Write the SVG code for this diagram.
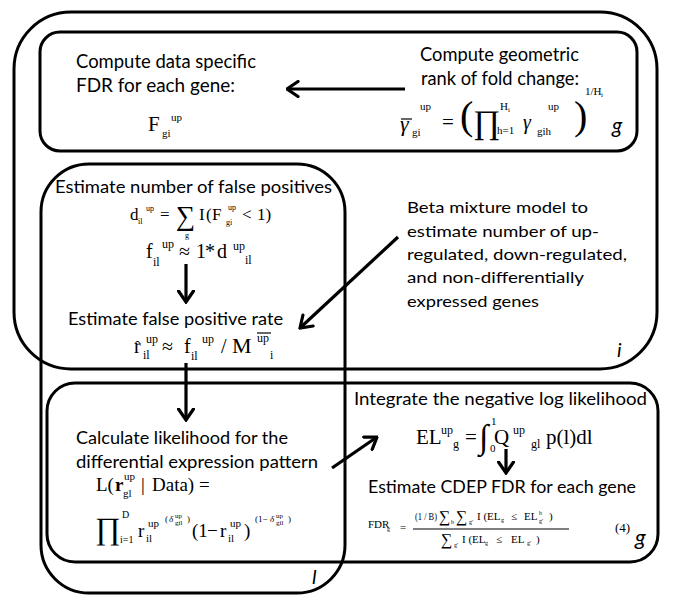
<svg xmlns="http://www.w3.org/2000/svg" width="685" height="607" viewBox="0 0 685 607">
<defs>
<marker id="chev" viewBox="0 0 14 18" refX="12.5" refY="9" markerWidth="14" markerHeight="18" markerUnits="userSpaceOnUse" orient="auto">
<path d="M1.5,1.5 L12.5,9 L1.5,16.5" fill="none" stroke="#000" stroke-width="3.2" stroke-linecap="round" stroke-linejoin="miter"/>
</marker>
</defs>
<style>
.plate{fill:none;stroke:#000;stroke-width:3}
.t{font-family:Lato,"Open Sans","Liberation Sans",sans-serif;fill:#000}
.m{font-family:"Liberation Serif","Times New Roman",serif;fill:#000}
.it{font-style:italic}
.lab{font-family:Lato,"Open Sans","Liberation Sans",sans-serif;font-style:italic;fill:#000}
.conn{fill:none;stroke:#000;stroke-width:3.2;marker-end:url(#chev)}
.rule{stroke:#000;stroke-width:1.2}
</style>
<rect width="685" height="607" fill="#fff"/>

<g id="plate-i">
<rect class="plate" x="14" y="12" width="643" height="357" rx="57"/>
<text class="lab" x="617" y="357" font-size="20">i</text>
</g>
<g id="plate-g-top">
<rect class="plate" x="40" y="32" width="597" height="119" rx="20"/>
<text class="lab" x="612" y="133" font-size="21">g</text>
</g>
<g id="plate-l">
<rect class="plate" x="41" y="164" width="304" height="429" rx="48"/>
<text class="lab" x="312" y="584" font-size="20">l</text>
</g>
<g id="plate-g-bottom">
<rect class="plate" x="47" y="383" width="611" height="179" rx="28"/>
<text class="lab" x="635" y="545" font-size="22">g</text>
</g>

<g id="node-data-fdr">
<text class="t" x="76" y="68" font-size="18.5" textLength="180" lengthAdjust="spacingAndGlyphs">Compute data specific</text>
<text class="t" x="76" y="92" font-size="18.5" textLength="159" lengthAdjust="spacingAndGlyphs">FDR for each gene:</text>
<text class="m" x="148" y="131" font-size="21">F</text>
<text class="m" x="162" y="137" font-size="11">gi</text>
<text class="m" x="171" y="121" font-size="11">up</text>
</g>

<g id="node-geo-rank">
<text class="t" x="420" y="61" font-size="18.5" textLength="159" lengthAdjust="spacingAndGlyphs">Compute geometric</text>
<text class="t" x="421" y="85" font-size="18.5" textLength="158" lengthAdjust="spacingAndGlyphs">rank of fold change:</text>
<text class="m it" x="400" y="131" font-size="22">γ</text>
<line class="rule" x1="401" y1="119" x2="412" y2="119" stroke-width="1.6"/>
<text class="m" x="412" y="136" font-size="11">gi</text>
<text class="m" x="420" y="110" font-size="11">up</text>
<text class="m" x="442" y="129" font-size="21">=</text>
<text class="m" x="460" y="129" font-size="40">(</text>
<text class="m" x="473" y="133" font-size="33">∏</text>
<text class="m" x="500" y="110" font-size="11">H</text>
<text class="m" x="508" y="112" font-size="7">i</text>
<text class="m" x="497" y="134" font-size="11">h=1</text>
<text class="m it" x="523" y="129" font-size="20">γ</text>
<text class="m" x="537" y="135" font-size="11">gih</text>
<text class="m" x="548" y="110" font-size="11">up</text>
<text class="m" x="574" y="129" font-size="40">)</text>
<text class="m" x="585" y="95" font-size="11">1/H</text>
<text class="m" x="601" y="97" font-size="7">i</text>
</g>

<g id="node-false-pos">
<text class="t" x="55" y="193" font-size="16.5" textLength="277" lengthAdjust="spacingAndGlyphs">Estimate number of false positives</text>
<text class="m" x="130" y="220" font-size="17">d</text>
<text class="m" x="138" y="224" font-size="8">il</text>
<text class="m" x="146" y="211" font-size="8">up</text>
<text class="m" x="160" y="220" font-size="17">=</text>
<text class="m" x="176" y="225" font-size="27">∑</text>
<text class="m" x="185" y="238" font-size="8">g</text>
<text class="m" x="199" y="220" font-size="17">I</text>
<text class="m" x="206" y="220" font-size="17">(</text>
<text class="m" x="212" y="220" font-size="17">F</text>
<text class="m" x="226" y="225" font-size="8">gi</text>
<text class="m" x="228" y="210" font-size="8">up</text>
<text class="m" x="242" y="220" font-size="17">&lt;</text>
<text class="m" x="257" y="220" font-size="17">1)</text>
<text class="m" x="146" y="258" font-size="20">f</text>
<text class="m" x="153" y="266" font-size="12">il</text>
<text class="m" x="162" y="248" font-size="12">up</text>
<text class="m" x="179" y="258" font-size="20">≈</text>
<text class="m" x="196" y="258" font-size="20">1</text>
<text class="m" x="205" y="258" font-size="20">*</text>
<text class="m" x="217" y="258" font-size="20">d</text>
<text class="m" x="233" y="250" font-size="12">up</text>
<text class="m" x="245" y="264" font-size="12">il</text>
</g>

<g id="node-fp-rate">
<text class="t" x="68" y="325" font-size="16.5" textLength="215" lengthAdjust="spacingAndGlyphs">Estimate false positive rate</text>
<text class="m" x="134" y="353" font-size="20">r</text>
<text class="m" x="135" y="351" font-size="15">ˆ</text>
<text class="m" x="146" y="343" font-size="12">up</text>
<text class="m" x="143" y="359" font-size="12">il</text>
<text class="m" x="162" y="353" font-size="20">≈</text>
<text class="m" x="184" y="353" font-size="20">f</text>
<text class="m" x="191" y="360" font-size="12">il</text>
<text class="m" x="202" y="343" font-size="12">up</text>
<text class="m" x="221" y="353" font-size="20">/</text>
<text class="m" x="232" y="353" font-size="22">M</text>
<text class="m" x="257" y="342" font-size="12">up</text>
<line class="rule" x1="257" y1="333" x2="271" y2="333"/>
<text class="m" x="270" y="359" font-size="12">i</text>
</g>

<g id="node-beta">
<text class="t" x="407" y="213" font-size="16" textLength="181" lengthAdjust="spacingAndGlyphs">Beta mixture model to</text>
<text class="t" x="407" y="237" font-size="16" textLength="192" lengthAdjust="spacingAndGlyphs">estimate number of up-</text>
<text class="t" x="407" y="260" font-size="16" textLength="220" lengthAdjust="spacingAndGlyphs">regulated, down-regulated,</text>
<text class="t" x="407" y="283" font-size="16" textLength="177" lengthAdjust="spacingAndGlyphs">and non-differentially</text>
<text class="t" x="407" y="307" font-size="16" textLength="132" lengthAdjust="spacingAndGlyphs">expressed genes</text>
</g>

<g id="node-likelihood">
<text class="t" x="76" y="444" font-size="17" textLength="212" lengthAdjust="spacingAndGlyphs">Calculate likelihood for the</text>
<text class="t" x="76" y="468" font-size="17" textLength="242" lengthAdjust="spacingAndGlyphs">differential expression pattern</text>
<text class="m" x="96" y="491" font-size="19">L(</text>
<text class="m" x="115" y="491" font-size="19" font-weight="bold">r</text>
<text class="m" x="123" y="497" font-size="11">gl</text>
<text class="m" x="124" y="480" font-size="11">up</text>
<text class="m" x="141" y="491" font-size="19">|</text>
<text class="m" x="152" y="491" font-size="19">Data)</text>
<text class="m" x="199" y="491" font-size="19">=</text>
<text class="m" x="95" y="539" font-size="31">∏</text>
<text class="m" x="122" y="518" font-size="10">D</text>
<text class="m" x="120" y="543" font-size="10">i=1</text>
<text class="m" x="138" y="537" font-size="19">r</text>
<text class="m" x="146" y="542" font-size="11">il</text>
<text class="m" x="148" y="527" font-size="11">up</text>
<text class="m" x="165" y="522" font-size="9">(</text>
<text class="m it" x="169" y="522" font-size="9">δ</text>
<text class="m" x="175" y="518" font-size="7">up</text>
<text class="m" x="175" y="525" font-size="7">gil</text>
<text class="m" x="187" y="522" font-size="9">)</text>
<text class="m" x="192" y="537" font-size="19">(1</text>
<text class="m" x="207" y="537" font-size="19">−</text>
<text class="m" x="220" y="537" font-size="19">r</text>
<text class="m" x="228" y="542" font-size="11">il</text>
<text class="m" x="230" y="527" font-size="11">up</text>
<text class="m" x="244" y="537" font-size="19">)</text>
<text class="m" x="255" y="522" font-size="9">(1−</text>
<text class="m it" x="270" y="522" font-size="9">δ</text>
<text class="m" x="276" y="518" font-size="7">up</text>
<text class="m" x="276" y="525" font-size="7">gil</text>
<text class="m" x="288" y="522" font-size="9">)</text>
</g>

<g id="node-integrate">
<text class="t" x="354" y="405" font-size="16.5" textLength="293" lengthAdjust="spacingAndGlyphs">Integrate the negative log likelihood</text>
<text class="m" x="416" y="444" font-size="21">EL</text>
<text class="m" x="441" y="434" font-size="12">up</text>
<text class="m" x="453" y="448" font-size="12">g</text>
<text class="m" x="465" y="444" font-size="21">=</text>
<text class="m" x="479" y="448" font-size="34">∫</text>
<text class="m" x="491" y="425" font-size="11">1</text>
<text class="m" x="490" y="452" font-size="11">0</text>
<text class="m" x="494" y="444" font-size="21">Q</text>
<text class="m" x="513" y="434" font-size="12">up</text>
<text class="m" x="531" y="448" font-size="12">gl</text>
<text class="m" x="546" y="444" font-size="21">p(l)dl</text>
</g>

<g id="node-cdep">
<text class="t" x="368" y="493" font-size="16.5" textLength="268" lengthAdjust="spacingAndGlyphs">Estimate CDEP FDR for each gene</text>
<text class="m" x="368" y="528" font-size="11">FDR</text>
<text class="m" x="387" y="531" font-size="6">g</text>
<text class="m" x="400" y="531" font-size="11">=</text>
<text class="m" x="415" y="520" font-size="10" textLength="22" lengthAdjust="spacingAndGlyphs">(1 / B)</text>
<text class="m" x="439" y="522" font-size="16">∑</text>
<text class="m" x="451" y="524" font-size="6">b</text>
<text class="m" x="456" y="522" font-size="16">∑</text>
<text class="m" x="469" y="524" font-size="6">g'</text>
<text class="m" x="477" y="520" font-size="11">I (EL</text>
<text class="m" x="501" y="522" font-size="6">g</text>
<text class="m" x="511" y="520" font-size="11">≤</text>
<text class="m" x="524" y="520" font-size="11">EL</text>
<text class="m" x="539" y="515" font-size="6">b</text>
<text class="m" x="539" y="523" font-size="6">g'</text>
<text class="m" x="549" y="520" font-size="11">)</text>
<line class="rule" x1="413" y1="529" x2="569" y2="529" stroke-width="1"/>
<text class="m" x="441" y="545" font-size="16">∑</text>
<text class="m" x="454" y="547" font-size="6">g'</text>
<text class="m" x="462" y="543" font-size="11">I (EL</text>
<text class="m" x="485" y="545" font-size="6">g</text>
<text class="m" x="496" y="543" font-size="11">≤</text>
<text class="m" x="511" y="543" font-size="11">EL</text>
<text class="m" x="527" y="545" font-size="6">g'</text>
<text class="m" x="536" y="543" font-size="11">)</text>
<text class="m" x="615" y="532" font-size="13">(4)</text>
</g>

<g id="connectors">
<line class="conn" x1="405" y1="89" x2="287" y2="89"/>
<line class="conn" x1="186" y1="264" x2="186" y2="302"/>
<line class="conn" x1="398" y1="237" x2="300" y2="328"/>
<line class="conn" x1="186" y1="363" x2="186" y2="420"/>
<line class="conn" x1="332" y1="468" x2="377" y2="437"/>
<line class="conn" x1="506" y1="449" x2="506" y2="473"/>
</g>
</svg>
